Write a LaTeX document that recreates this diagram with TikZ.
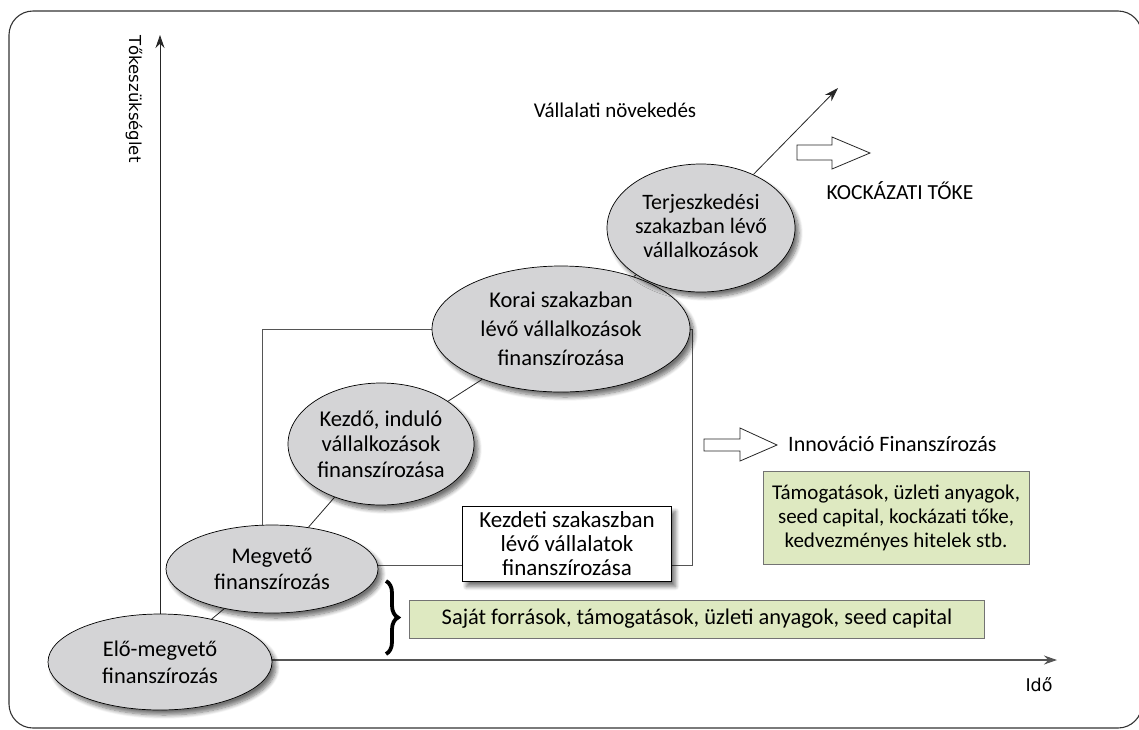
\documentclass[tikz,border=0pt]{standalone}
\usepackage{fontspec}
\setmainfont{Carlito}
\newfontfamily\axisfont{DejaVu Sans}
\usetikzlibrary{shapes.geometric,shadows.blur,decorations.pathreplacing,arrows.meta}

\definecolor{stagegray}{HTML}{D4D4D6}
\definecolor{fundgreen}{HTML}{DEE9C1}
\definecolor{linegray}{HTML}{555555}
\definecolor{framegray}{HTML}{333333}

\pgfdeclarelayer{bg}
\pgfsetlayers{bg,main}

\tikzset{
  softshadow/.style={blur shadow={shadow xshift=4pt, shadow yshift=-5pt,
      shadow blur steps=8, shadow blur radius=4pt, shadow opacity=55}},
  stage/.style={ellipse, draw=black, line width=0.7pt, fill=stagegray,
      inner sep=0pt, softshadow},
  stagetext/.style={align=center, inner sep=0pt},
  whitebox/.style={draw=black, line width=0.8pt, fill=white, inner sep=0pt,
      align=center, softshadow},
  greenbox/.style={draw=black!55, line width=0.8pt, fill=fundgreen,
      inner sep=0pt, align=center},
  axis/.style={line width=1.1pt, -{Stealth[length=13pt,width=9pt]}},
  link/.style={draw=black!85, line width=0.8pt},
  span/.style={draw=linegray, line width=1pt},
  hollow/.style={draw=black!85, line width=0.8pt, fill=white, line join=miter},
  lbl/.style={inner sep=0pt}
}

\begin{document}
\begin{tikzpicture}[x=1pt,y=-1pt]
\useasboundingbox (0,0) rectangle (1139,729);

% outer frame
\draw[framegray, line width=1.1pt, rounded corners=24pt] (9,11) rectangle (1142,728);

% growth stages
\node[stage, minimum width=224pt, minimum height=96pt] (elo) at (160,662) {};
\node[stagetext, font=\fontsize{22.4}{27}\selectfont] at (elo) {Elő-megvető\\finanszírozás};

\node[stage, minimum width=212pt, minimum height=88pt] (megveto) at (272,569) {};
\node[stagetext, font=\fontsize{22.4}{26}\selectfont] at (megveto) {Megvető\\finanszírozás};

\node[stage, minimum width=186pt, minimum height=122pt] (kezdo) at (381,444) {};
\node[stagetext, font=\fontsize{22.6}{25.5}\selectfont] at (kezdo) {Kezdő, induló\\vállalkozások\\finanszírozása};

\node[stage, minimum width=258pt, minimum height=126pt] (korai) at (561,329) {};
\node[stagetext, font=\fontsize{22.5}{29}\selectfont] at (korai) {Korai szakazban\\lévő vállalkozások\\finanszírozása};

\node[stage, minimum width=188pt, minimum height=128pt] (terj) at (701,228) {};
\node[stagetext, font=\fontsize{22}{24}\selectfont] at ([yshift=2pt]terj) {Terjeszkedési\\szakazban lévő\\vállalkozások};

% early-stage financing box
\node[whitebox, minimum width=209pt, minimum height=75pt,
      font=\fontsize{23}{24}\selectfont] (kezdeti) at (567,544)
      {Kezdeti szakaszban\\lévő vállalatok\\finanszírozása};

% funding source boxes
\node[greenbox, minimum width=575pt, minimum height=38pt,
      font=\fontsize{22.4}{24}\selectfont] (sajat) at (697,619)
      {Saját források, támogatások, üzleti anyagok, seed capital};
\node[greenbox, minimum width=266pt, minimum height=93pt,
      font=\fontsize{21}{24}\selectfont] (tamog) at (896,518)
      {Támogatások, üzleti anyagok,\\seed capital, kockázati tőke,\\kedvezményes hitelek stb.};

% axes, spans and links behind the stages
\coordinate (origin) at (160,660);
\coordinate (ytip) at (160,35);
\coordinate (xtip) at (1057,660);
\coordinate (growtip) at (838,88);
\begin{pgfonlayer}{bg}
  \draw[axis, draw=black!85, line width=0.9pt] (origin) -- (ytip);
  \draw[axis, draw=linegray] (origin) -- (xtip);
  \draw[span] (262,329) rectangle (692,565);
  \draw[link] (elo) -- (megveto);
  \draw[link] (megveto) -- (kezdo);
  \draw[link] (kezdo) -- (korai);
  \draw[link] (korai) -- (terj);
\end{pgfonlayer}
\draw[link, -{Stealth[length=14pt,width=9pt]}] (terj) -- (growtip);

% axis labels
\node[lbl, rotate=-90, font=\axisfont\fontsize{16.5}{18}\selectfont] (ylab) at (134,99) {Tőkeszükséglet};
\node[lbl, font=\axisfont\fontsize{17.5}{20}\selectfont] (xlab) at (1039,685) {Idő};

% brace grouping the first stages
\draw[line width=3.8pt, decorate, decoration={brace, amplitude=12pt}] (386,581) -- (386,654);

% hollow arrows with their labels
\draw[hollow] (704,439) -- (740,439) -- (740,428) -- (777,445) -- (740,461) -- (740,451) -- (704,451) -- cycle;
\node[lbl, anchor=west, font=\fontsize{22}{24}\selectfont] (innov) at (788,444) {Innováció Finanszírozás};

\draw[hollow] (797,145) -- (832,145) -- (832,137) -- (870,153) -- (832,169) -- (832,160) -- (797,160) -- cycle;
\node[lbl, font=\fontsize{21.5}{24}\selectfont] (kockazati) at (900,191) {KOCKÁZATI TŐKE};

\node[lbl, font=\fontsize{21}{24}\selectfont] (novekedes) at (615,110) {Vállalati növekedés};
\end{tikzpicture}
\end{document}
